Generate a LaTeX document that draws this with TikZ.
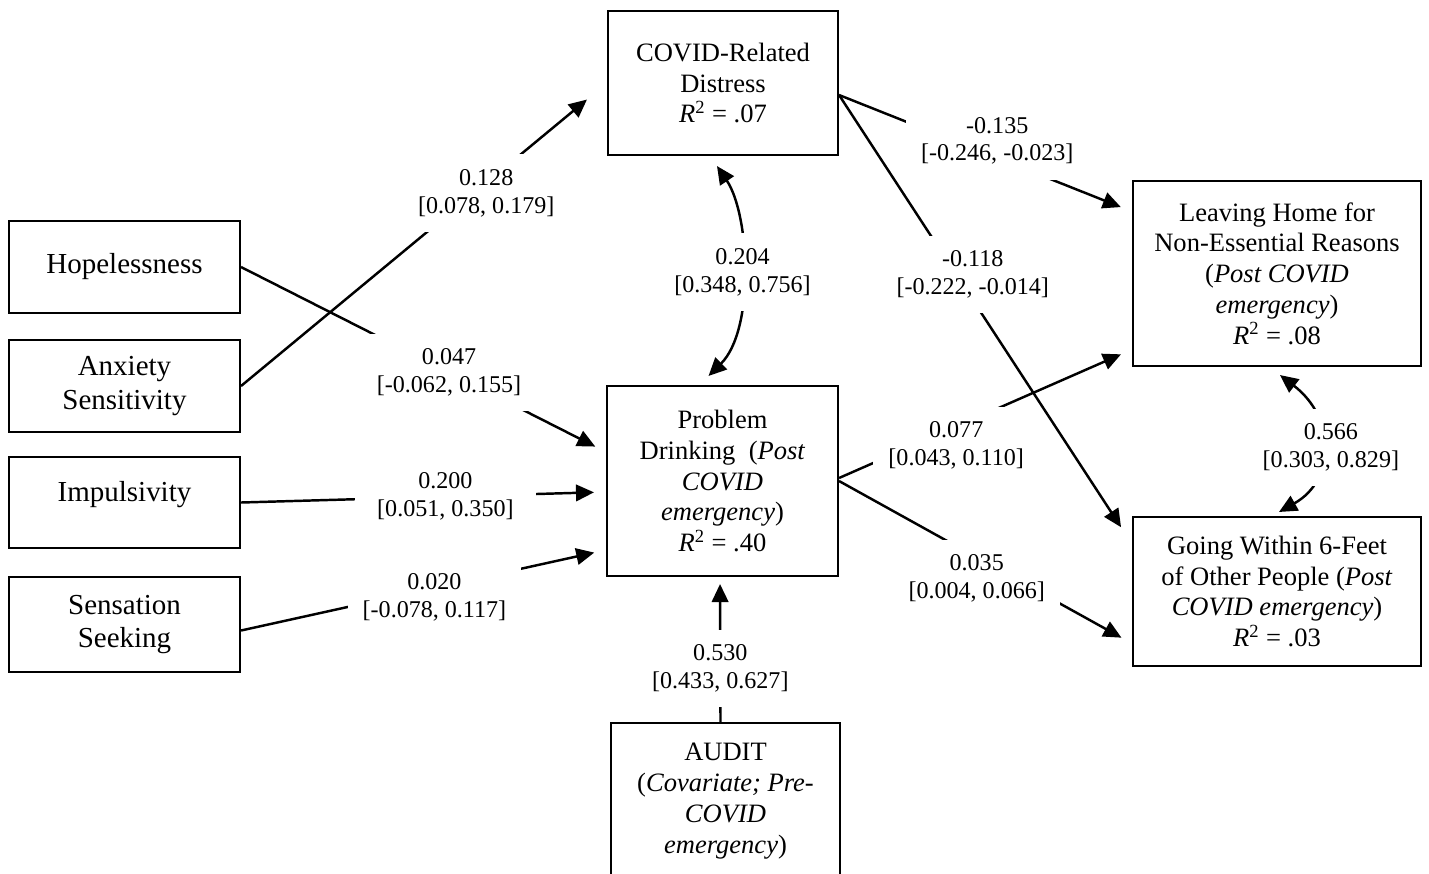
\documentclass[tikz,border=0pt]{standalone}
\usepackage{fontspec}
\setmainfont{Liberation Serif}
\usetikzlibrary{arrows.meta,calc}

\tikzset{
  box/.style={draw, line width=1.2pt, align=center, inner sep=0pt, font=\fontsize{15.1}{17.5}\selectfont},
  lbox/.style={box, minimum width=4.62cm, font=\fontsize{16.5}{19}\selectfont},
  eff/.style={line width=1.4pt, -{Triangle[length=0.36cm,width=0.33cm]}, shorten >=0.24cm},
  cov/.style={line width=1.4pt, {Triangle[length=0.36cm,width=0.33cm]}-{Triangle[length=0.36cm,width=0.33cm]}},
  est/.style={fill=white, align=center, inner sep=0.3cm, font=\fontsize{13.7}{15.8}\selectfont}
}
\newcommand{\rsq}[1]{\textit{R}\textsuperscript{2} = #1}

\begin{document}
\begin{tikzpicture}[x=0.02cm, y=-0.02cm]
        \useasboundingbox (0,0) rectangle (1429,873);
        \clip (0,0) rectangle (1429,873);

        % Predittori
        \node[lbox, minimum height=1.84cm] (hope) at (124.5,267) {Hopelessness};
        \node[lbox, minimum height=1.84cm] (anx) at (124.5,386) {Anxiety\\Sensitivity};
        \node[lbox, minimum height=1.82cm, text depth=0.45cm] (imp) at (124.5,502.5) {Impulsivity};
        \node[lbox, minimum height=1.90cm] (sens) at (124.5,624.5) {Sensation\\Seeking};

        % Mediatori, covariata ed esiti
        \node[box, minimum width=4.60cm, minimum height=2.88cm] (covid) at (723,83) {COVID-Related\\Distress\\\rsq{.07}};
        \node[box, minimum width=4.62cm, minimum height=3.80cm] (pd) at (722.5,481) {Problem\\Drinking\ \ (\textit{Post}\\\textit{COVID}\\\textit{emergency})\\\rsq{.40}};
        \node[box, minimum width=4.58cm, minimum height=3.12cm] (audit) at (725.5,801) {AUDIT\\(\textit{Covariate; Pre-}\\\textit{COVID}\\\textit{emergency})};
        \node[box, minimum width=5.76cm, minimum height=3.70cm] (leave) at (1277,273.5) {Leaving Home for\\Non-Essential Reasons\\(\textit{Post COVID}\\\textit{emergency})\\\rsq{.08}};
        \node[box, minimum width=5.76cm, minimum height=2.98cm] (going) at (1277,591.5) {Going Within 6-Feet\\of Other People (\textit{Post}\\\textit{COVID emergency})\\\rsq{.03}};

        % Effetti diretti
        \draw[eff, shorten >=0.52cm] (anx.east) -- node[est, pos=.67, yshift=-0.2cm] {0.128\\{}[0.078, 0.179]} (covid.west);
        \draw[eff] (hope.east) -- node[est, pos=.57] {0.047\\{}[-0.062, 0.155]} ($(pd.west)+(0,-29)$);
        \draw[eff] (imp.east) -- node[est, pos=.56, inner xsep=0.45cm] {0.200\\{}[0.051, 0.350]} ($(pd.west)+(0,11)$);
        \draw[eff] ($(sens.east)+(0,6)$) -- node[est, pos=.53, yshift=-0.19cm] {0.020\\{}[-0.078, 0.117]} ($(pd.west)+(0,69)$);
        \draw[eff, shorten >=0.14cm] ($(audit.north)+(-5,0)$) -- node[est, pos=.37] {0.530\\{}[0.433, 0.627]} ($(pd.south)+(-2.5,0)$);

        \draw[eff] ($(covid.east)+(0,12)$) -- node[est, pos=.54, yshift=0.34cm] {-0.135\\{}[-0.246, -0.023]} ($(leave.west)+(0,-62)$);
        \draw[eff, shorten >=0.4cm] ($(covid.east)+(0,12)$) -- node[est, pos=.40, xshift=0.33cm] {-0.118\\{}[-0.222, -0.014]} ($(going.north west)+(0,28)$);
        \draw[eff] ($(pd.east)+(0,-3)$) -- node[est, pos=.40, yshift=-0.38cm] {0.077\\{}[0.043, 0.110]} ($(leave.west)+(0,76)$);
        \draw[eff] (pd.east) -- node[est, pos=.47, yshift=-0.42cm] {0.035\\{}[0.004, 0.066]} ($(going.west)+(0,52)$);

        % Covarianze
        \draw[cov] ($(covid.south)+(-6,10)$) .. controls (750,215) and (755,330) .. ($(pd.north)+(-14,-9)$) node[est, pos=.5] {0.204\\{}[0.348, 0.756]};
        \draw[cov] ($(leave.south)+(3,8)$) .. controls (1336,418) and (1336,480) .. ($(going.north)+(2,-4)$) node[est, pos=.5, xshift=0.18cm] {0.566\\{}[0.303, 0.829]};
    \end{tikzpicture}
\end{document}
